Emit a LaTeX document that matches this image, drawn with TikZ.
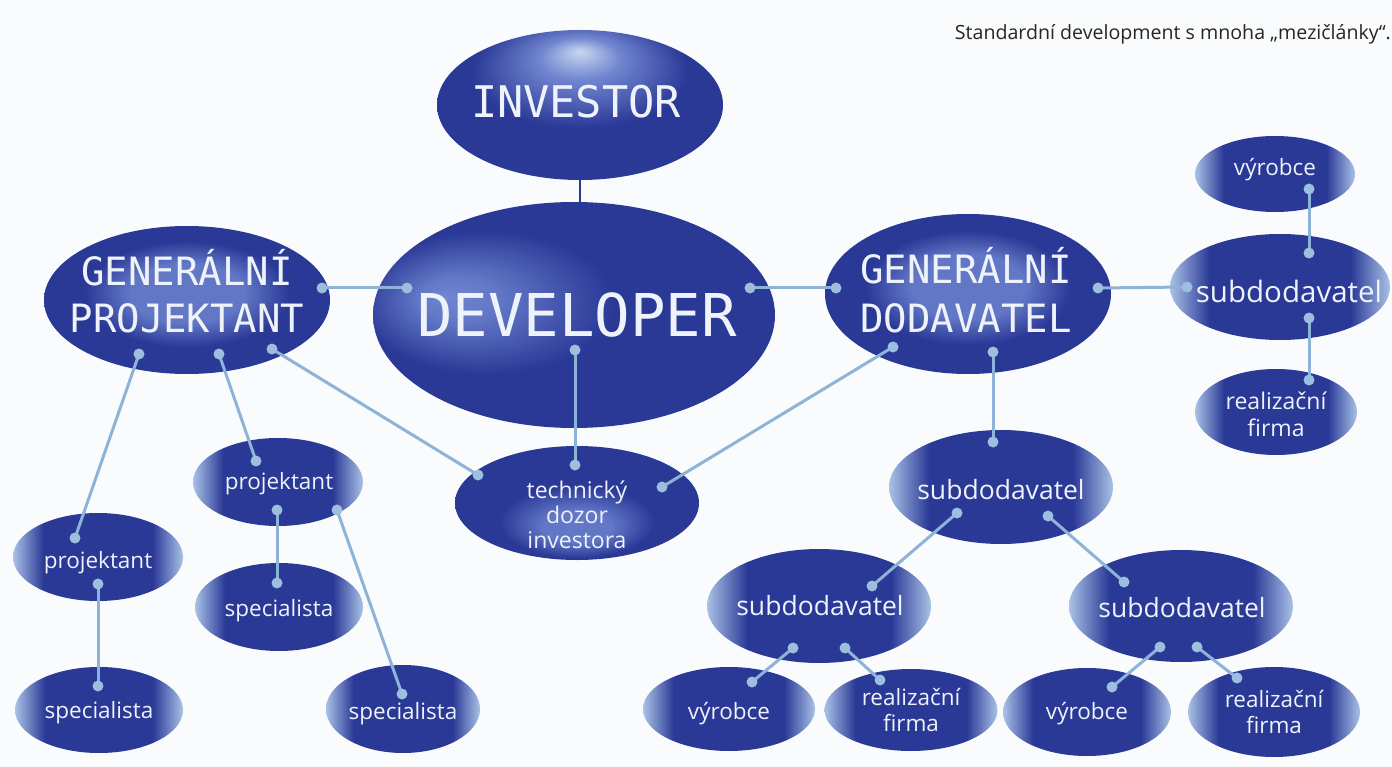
\documentclass[tikz,border=0pt]{standalone}
\usepackage{fontspec}
\setmainfont{Open Sans}
\newfontfamily\capsfont{DejaVu Sans Mono}
\usetikzlibrary{shapes.geometric}

\definecolor{bs}{HTML}{2A3896}
\definecolor{glw}{HTML}{A9C2E6}
\definecolor{hl}{HTML}{C9D8F1}
\definecolor{hlmid}{HTML}{7186D0}
\definecolor{bandc}{HTML}{6277C6}
\definecolor{wirec}{HTML}{8DB4D8}
\definecolor{dotc}{HTML}{9CBFDF}
\definecolor{labelc}{HTML}{EEF2FA}
\definecolor{paper}{HTML}{FAFBFC}

% shadings: light side edges for the small bubbles, offset glows for the big ones
\pgfdeclarehorizontalshading{edgeglow}{100bp}{color(0bp)=(glw); color(25bp)=(glw); color(34bp)=(bs); color(66bp)=(bs); color(75bp)=(glw); color(100bp)=(glw)}
\pgfdeclareradialshading{topglow}{\pgfpoint{0bp}{18bp}}{color(0bp)=(hl); color(7bp)=(hlmid); color(19bp)=(bs); color(50bp)=(bs)}
\pgfdeclareradialshading{midglow}{\pgfpoint{0bp}{3bp}}{color(0bp)=(bandc); color(10bp)=(bandc); color(18bp)=(bs); color(50bp)=(bs)}
\pgfdeclareradialshading{leftglow}{\pgfpoint{-16bp}{4bp}}{color(0bp)=(hlmid); color(5bp)=(bandc); color(16bp)=(bs); color(50bp)=(bs)}
\pgfdeclareradialshading{lowglow}{\pgfpoint{0bp}{-12bp}}{color(0bp)=(bandc); color(7bp)=(bandc); color(16bp)=(bs); color(50bp)=(bs)}

\tikzset{
  bubble/.style={ellipse, inner sep=0pt, shade, shading=edgeglow},
  bigbubble/.style={ellipse, inner sep=0pt, shade, shading=#1},
  capstext/.style={text=labelc, inner sep=0pt, align=center, anchor=base},
  smalltext/.style={text=labelc, inner sep=0pt, align=center, anchor=base,
    font=\fontsize{22.5}{26}\selectfont},
  wire/.style={draw=wirec, line width=3pt},
}
\newcommand\link[2]{%
  \draw[wire] (#1) -- (#2);
  \fill[dotc] (#1) circle (5.5);
  \fill[dotc] (#2) circle (5.5);}

\begin{document}
\begin{tikzpicture}[x=1pt, y=-1pt]
\fill[paper] (0,0) rectangle (1392,767);
\useasboundingbox (0,0) rectangle (1392,767);

\node[anchor=base east, inner sep=0pt, text=black!85, font=\fontsize{19.6}{23}\selectfont]
  (title) at (1391,40) {Standardní development s mnoha „mezičlánky“.};

% bubbles
\node[bigbubble=topglow, minimum width=286pt, minimum height=150pt] (inv) at (580,105) {};
\node[bigbubble=leftglow, minimum width=402pt, minimum height=226pt] (dev) at (574,315) {};
\node[bigbubble=midglow, minimum width=286pt, minimum height=148pt] (gp) at (187,300) {};
\node[bigbubble=midglow, minimum width=286pt, minimum height=160pt] (gd) at (968,294) {};
\node[bigbubble=lowglow, minimum width=244pt, minimum height=114pt] (tdi) at (577,503) {};

\node[bubble, minimum width=170pt, minimum height=88pt] (pl) at (98,557) {};
\node[bubble, minimum width=168pt, minimum height=86pt] (sl) at (99,710) {};
\node[bubble, minimum width=170pt, minimum height=88pt] (pm) at (278,482) {};
\node[bubble, minimum width=168pt, minimum height=88pt] (sm) at (279,607) {};
\node[bubble, minimum width=154pt, minimum height=88pt] (sr) at (403,709) {};

\node[bubble, minimum width=224pt, minimum height=114pt] (sc) at (1001,487) {};
\node[bubble, minimum width=224pt, minimum height=114pt] (sbl) at (819,606) {};
\node[bubble, minimum width=224pt, minimum height=112pt] (sbr) at (1181,606) {};
\node[bubble, minimum width=172pt, minimum height=84pt] (vbl) at (729,709) {};
\node[bubble, minimum width=173pt, minimum height=82pt] (rbl) at (911,710) {};
\node[bubble, minimum width=168pt, minimum height=88pt] (vbr) at (1087,712) {};
\node[bubble, minimum width=172pt, minimum height=90pt] (rbr) at (1274,712) {};

\node[bubble, minimum width=160pt, minimum height=76pt] (vtr) at (1275,174) {};
\node[bubble, minimum width=220pt, minimum height=106pt] (str) at (1280,287) {};
\node[bubble, minimum width=162pt, minimum height=86pt] (rtr) at (1276,412) {};

% labels (multi-line labels are placed by the baseline of their last line)
\node[capstext, font=\capsfont\fontsize{43.6}{52}\selectfont] (inv-t) at (576,118) {INVESTOR};
\node[capstext, font=\capsfont\fontsize{59}{70}\selectfont] (dev-t) at (577,336) {DEVELOPER};
\node[capstext, font=\capsfont\fontsize{39}{47}\selectfont] (gp-t) at (187,332) {GENERÁLNÍ\\PROJEKTANT};
\node[capstext, font=\capsfont\fontsize{39}{49}\selectfont] (gd-t) at (966,333) {GENERÁLNÍ\\DODAVATEL};
\node[smalltext, font=\fontsize{23}{25}\selectfont] (tdi-t) at (577,548) {technický\\dozor\\investora};

\node[smalltext] (pl-t) at (98,568) {projektant};
\node[smalltext] (sl-t) at (99,718) {specialista};
\node[smalltext] (pm-t) at (279,489) {projektant};
\node[smalltext] (sm-t) at (279,616) {specialista};
\node[smalltext] (sr-t) at (403,719) {specialista};

\node[smalltext, font=\fontsize{26.5}{30}\selectfont] (sc-t) at (1001,499) {subdodavatel};
\node[smalltext, font=\fontsize{26.5}{30}\selectfont] (sbl-t) at (820,615) {subdodavatel};
\node[smalltext, font=\fontsize{26.5}{30}\selectfont] (sbr-t) at (1182,617) {subdodavatel};
\node[smalltext] (vbl-t) at (729,719) {výrobce};
\node[smalltext] (rbl-t) at (911,731) {realizační\\firma};
\node[smalltext] (vbr-t) at (1087,719) {výrobce};
\node[smalltext] (rbr-t) at (1274,733) {realizační\\firma};
\node[smalltext] (vtr-t) at (1275,176) {výrobce};
\node[smalltext, font=\fontsize{29.5}{33}\selectfont] (str-t) at (1289,303) {subdodavatel};
\node[smalltext, font=\fontsize{23}{27}\selectfont] (rtr-t) at (1276,436) {realizační\\firma};

% attachment points of the connectors
\coordinate (gp-e) at (322,288);   \coordinate (dev-w) at (407,288);
\coordinate (dev-e) at (750,288);  \coordinate (gd-w) at (836,288);
\coordinate (gd-e) at (1098,288);  \coordinate (str-w) at (1187,287);
\coordinate (gp-s1) at (139,354);  \coordinate (pl-n) at (75,538);
\coordinate (gp-s2) at (219,354);  \coordinate (pm-n) at (256,461);
\coordinate (gp-s3) at (272,349);  \coordinate (tdi-w) at (478,475);
\coordinate (dev-s) at (575,350);  \coordinate (tdi-n) at (575,465);
\coordinate (gd-s1) at (893,347);  \coordinate (tdi-e) at (662,487);
\coordinate (gd-s2) at (993,352);  \coordinate (sc-n) at (993,442);
\coordinate (pl-s) at (98,584);    \coordinate (sl-n) at (98,686);
\coordinate (pm-s) at (277,510);   \coordinate (sm-n) at (277,583);
\coordinate (pm-se) at (337,510);  \coordinate (sr-n) at (402,694);
\coordinate (sc-sw) at (957,513);  \coordinate (sbl-ne) at (872,586);
\coordinate (sc-se) at (1048,516); \coordinate (sbr-nw) at (1124,582);
\coordinate (sbl-s1) at (793,648); \coordinate (vbl-n) at (752,682);
\coordinate (sbl-s2) at (845,648); \coordinate (rbl-n) at (880,680);
\coordinate (sbr-s1) at (1160,647); \coordinate (vbr-n) at (1112,687);
\coordinate (sbr-s2) at (1197,647); \coordinate (rbr-n) at (1237,678);
\coordinate (vtr-s) at (1309,189); \coordinate (str-n) at (1309,253);
\coordinate (str-s) at (1309,318); \coordinate (rtr-n) at (1309,380);

% investor to developer
\draw[bs, line width=2pt] (inv.south) -- (inv.south |- dev.north);

\link{gp-e}{dev-w}
\link{dev-e}{gd-w}
\link{gd-e}{str-w}
\link{gp-s1}{pl-n}
\link{gp-s2}{pm-n}
\link{gp-s3}{tdi-w}
\link{dev-s}{tdi-n}
\link{gd-s1}{tdi-e}
\link{gd-s2}{sc-n}
\link{pl-s}{sl-n}
\link{pm-s}{sm-n}
\link{pm-se}{sr-n}
\link{sc-sw}{sbl-ne}
\link{sc-se}{sbr-nw}
\link{sbl-s1}{vbl-n}
\link{sbl-s2}{rbl-n}
\link{sbr-s1}{vbr-n}
\link{sbr-s2}{rbr-n}
\link{vtr-s}{str-n}
\link{str-s}{rtr-n}
\end{tikzpicture}
\end{document}
